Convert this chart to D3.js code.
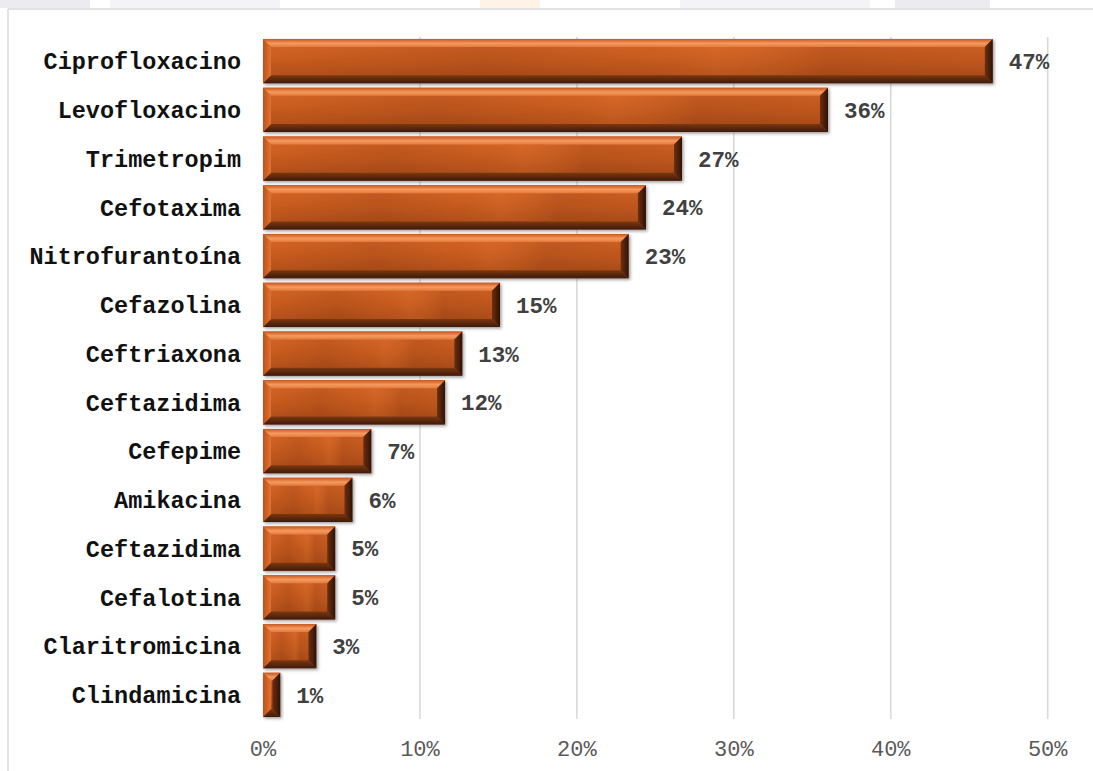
<!DOCTYPE html>
<html>
<head>
<meta charset="utf-8">
<script src="https://cdn.jsdelivr.net/npm/d3@7"></script>
<style>
  html, body { margin: 0; padding: 0; background: #ffffff; }
  svg { display: block; }
</style>
</head>
<body>
<svg id="chart" width="1093" height="771"></svg>
<script>
const categories = ["Ciprofloxacino","Levofloxacino","Trimetropim","Cefotaxima","Nitrofurantoína","Cefazolina","Ceftriaxona","Ceftazidima","Cefepime","Amikacina","Ceftazidima","Cefalotina","Claritromicina","Clindamicina"];
const values = [46.5, 36.0, 26.7, 24.4, 23.3, 15.1, 12.7, 11.6, 6.9, 5.7, 4.6, 4.6, 3.4, 1.1];
const valueLabels = ["47%","36%","27%","24%","23%","15%","13%","12%","7%","6%","5%","5%","3%","1%"];
const tickValues = [0, 10, 20, 30, 40, 50];
const tickLabels = ["0%","10%","20%","30%","40%","50%"];

const W = 1093, H = 771;
const svg = d3.select("#chart");
const defs = svg.append("defs");

// faint background artefacts along the top edge
const topPatches = [[0,90,"#ececf0"],[110,280,"#f4f4f6"],[480,540,"#fff2e6"],[680,870,"#f4f4f6"],[895,990,"#ececf0"]];
svg.append("g").selectAll("rect").data(topPatches).join("rect")
  .attr("x", d => d[0]).attr("y", 0).attr("width", d => d[1]-d[0]).attr("height", 8)
  .attr("fill", d => d[2]);

// frame
svg.append("line").attr("x1", 8).attr("x2", W).attr("y1", 9).attr("y2", 9)
  .attr("stroke", "#d9d9d9").attr("stroke-width", 1.5);
svg.append("line").attr("x1", 8).attr("x2", 8).attr("y1", 9).attr("y2", H)
  .attr("stroke", "#d9d9d9").attr("stroke-width", 1.5);

const x = d3.scaleLinear().domain([0, 50]).range([263, 1047.7]);
const y = d3.scaleBand().domain(d3.range(categories.length)).range([37, 719])
  .paddingInner(0.09).paddingOuter(0.04);

function lin(id, x1, y1, x2, y2, stops) {
  const g = defs.append("linearGradient").attr("id", id)
    .attr("x1", x1).attr("y1", y1).attr("x2", x2).attr("y2", y2);
  stops.forEach(s => g.append("stop").attr("offset", s[0]).attr("stop-color", s[1]).attr("stop-opacity", s[2] == null ? 1 : s[2]));
}
lin("face", 0, 0, 0, 1, [[0,"#d8682a"],[0.45,"#c95c1f"],[1,"#a84a18"]]);
lin("tex", 0, 0, 1, 0, [[0,"#5a220a",0.0],[0.3,"#5a220a",0.14],[0.5,"#5a220a",0.03],[0.62,"#ff9a50",0.08],[0.78,"#5a220a",0.15],[1,"#5a220a",0.08]]);
lin("bTop", 0, 0, 0, 1, [[0,"#c8561c"],[0.55,"#f49a60"],[1,"#e57a3a"]]);
lin("bBot", 0, 0, 0, 1, [[0,"#7a3812"],[1,"#3e1a06"]]);
lin("bLeft", 0, 0, 1, 0, [[0,"#c05018"],[1,"#e07334"]]);
lin("bRight", 0, 0, 1, 0, [[0,"#6e3010"],[1,"#2e1204"]]);

const f = defs.append("filter").attr("id", "shadow").attr("x", "-10%").attr("y", "-20%").attr("width", "130%").attr("height", "150%");
f.append("feDropShadow").attr("dx", 1.5).attr("dy", 1.5).attr("stdDeviation", 1.6)
  .attr("flood-color", "#777").attr("flood-opacity", 0.7);

// grid
svg.append("g").selectAll("line").data(tickValues.slice(1)).join("line")
  .attr("x1", d => x(d)).attr("x2", d => x(d))
  .attr("y1", 37).attr("y2", 719)
  .attr("stroke", "#d9d9d9").attr("stroke-width", 1.6);

// bars
const bars = svg.append("g").selectAll("g").data(values).join("g")
  .attr("filter", "url(#shadow)");

bars.each(function(v, i) {
  const g = d3.select(this);
  const x0 = x(0), x1 = x(v), y0 = y(i), y1 = y(i) + y.bandwidth();
  const b = Math.min(8, (x1 - x0) / 2);
  g.append("rect").attr("x", x0).attr("y", y0).attr("width", x1 - x0).attr("height", y1 - y0).attr("fill", "url(#face)");
  g.append("rect").attr("x", x0 + b).attr("y", y0 + b).attr("width", Math.max(0, x1 - x0 - 2*b)).attr("height", y1 - y0 - 2*b).attr("fill", "url(#tex)");
  const poly = (pts, fill) => g.append("polygon").attr("points", pts.map(p => p.join(",")).join(" ")).attr("fill", fill);
  poly([[x0,y0],[x1,y0],[x1-b,y0+b],[x0+b,y0+b]], "url(#bTop)");
  poly([[x0,y1],[x1,y1],[x1-b,y1-b],[x0+b,y1-b]], "url(#bBot)");
  poly([[x0,y0],[x0+b,y0+b],[x0+b,y1-b],[x0,y1]], "url(#bLeft)");
  poly([[x1,y0],[x1-b,y0+b],[x1-b,y1-b],[x1,y1]], "url(#bRight)");
});

// category labels
svg.append("g").selectAll("text").data(categories).join("text")
  .attr("x", 241).attr("y", (d, i) => y(i) + y.bandwidth() / 2)
  .attr("dy", "0.35em").attr("text-anchor", "end")
  .attr("font-family", "'Liberation Mono', 'Courier New', monospace")
  .attr("font-weight", "bold").attr("font-size", 23.5).attr("fill", "#111")
  .text(d => d);

// value labels
svg.append("g").selectAll("text").data(values).join("text")
  .attr("x", d => x(d) + 16).attr("y", (d, i) => y(i) + y.bandwidth() / 2)
  .attr("dy", "0.35em")
  .attr("font-family", "'Liberation Mono', 'Courier New', monospace")
  .attr("font-weight", "bold").attr("font-size", 22.5).attr("fill", "#404040")
  .text((d, i) => valueLabels[i]);

// x axis tick labels
svg.append("g").selectAll("text").data(tickValues).join("text")
  .attr("x", d => x(d)).attr("y", 748).attr("dy", "0.35em")
  .attr("text-anchor", "middle")
  .attr("font-family", "'Liberation Mono', 'Courier New', monospace")
  .attr("font-size", 22).attr("fill", "#595959")
  .text((d, i) => tickLabels[i]);
</script>
</body>
</html>
